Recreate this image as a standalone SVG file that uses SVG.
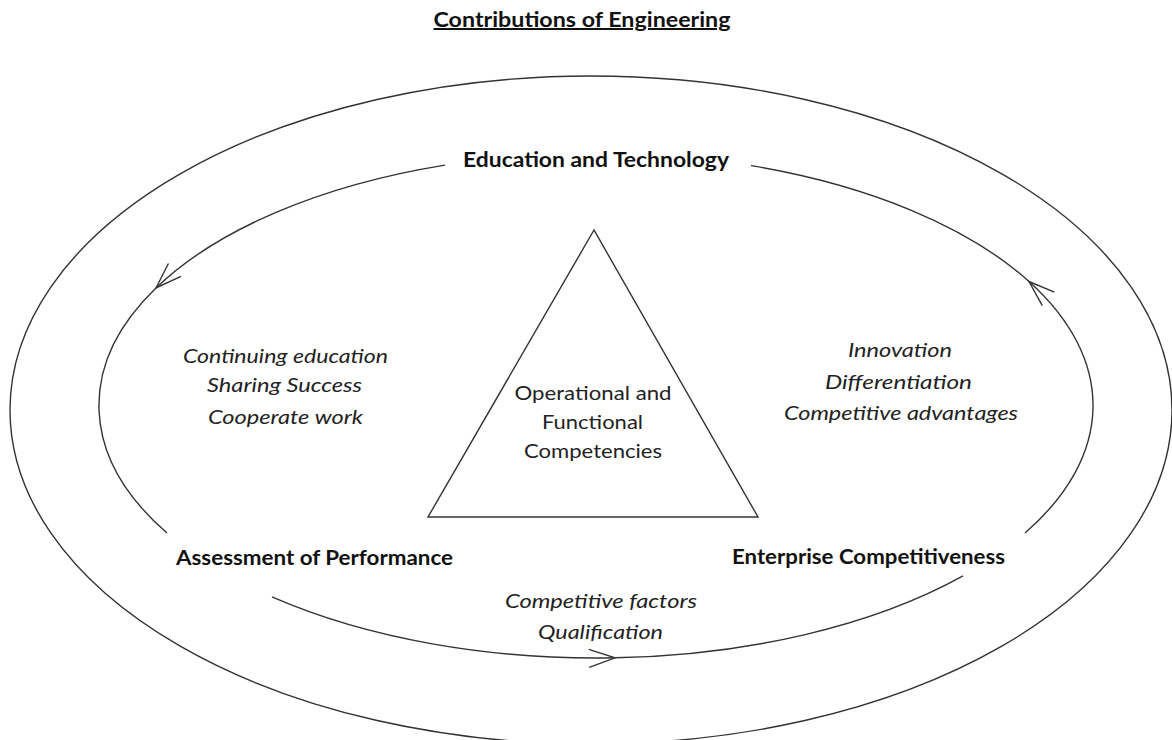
<svg xmlns="http://www.w3.org/2000/svg" width="1172" height="740" viewBox="0 0 1172 740">
  <style>
    .line { fill: none; stroke: #333; stroke-width: 1.4; }
    .bold { font-family: Lato, "Open Sans", "Liberation Sans", sans-serif; font-weight: bold; font-size: 20px; fill: #111; text-anchor: middle; }
    .ital { font-family: Lato, "Open Sans", "Liberation Sans", sans-serif; font-style: italic; font-size: 20px; fill: #222; text-anchor: middle; }
    .reg { font-family: Lato, "Open Sans", "Liberation Sans", sans-serif; font-size: 20px; fill: #222; text-anchor: middle; }
  </style>
  <defs>
    <marker id="arrow" markerUnits="userSpaceOnUse" markerWidth="40" markerHeight="30" viewBox="-30 -15 40 30" refX="0" refY="0" orient="auto">
      <path d="M-26,-9 L0,0 L-26,9" fill="none" stroke="#333" stroke-width="1.4"/>
    </marker>
  </defs>
  <rect width="1172" height="740" fill="#fff"/>

  <g id="title">
    <text class="bold" x="582" y="27" textLength="297" lengthAdjust="spacingAndGlyphs" text-decoration="underline">Contributions of Engineering</text>
  </g>

  <g id="outer-ellipse">
    <ellipse class="line" cx="591" cy="410" rx="581" ry="334"/>
  </g>

  <g id="connectors">
    <path class="line" marker-mid="url(#arrow)" d="M445,165.1 A497,252.5 0 0 0 156,288 A497,252.5 0 0 0 167,533"/>
    <path class="line" marker-mid="url(#arrow)" d="M272,596.9 A497,252.5 0 0 0 615,657.8 A497,252.5 0 0 0 963,575.9"/>
    <path class="line" marker-mid="url(#arrow)" d="M1025,533 A497,252.5 0 0 0 1029,281.5 A497,252.5 0 0 0 751,165.6"/>
  </g>

  <g id="education-technology">
    <text class="bold" x="596" y="167" textLength="266" lengthAdjust="spacingAndGlyphs">Education and Technology</text>
  </g>

  <g id="assessment-performance">
    <text class="bold" x="314.5" y="565" textLength="277" lengthAdjust="spacingAndGlyphs">Assessment of Performance</text>
  </g>

  <g id="enterprise-competitiveness">
    <text class="bold" x="868.5" y="564" textLength="273" lengthAdjust="spacingAndGlyphs">Enterprise Competitiveness</text>
  </g>

  <g id="competencies">
    <polygon class="line" points="594,230 428,517 758,517"/>
    <text class="reg" x="593" y="400" textLength="157" lengthAdjust="spacingAndGlyphs">Operational and</text>
    <text class="reg" x="592.5" y="429" textLength="101" lengthAdjust="spacingAndGlyphs">Functional</text>
    <text class="reg" x="593" y="458" textLength="138" lengthAdjust="spacingAndGlyphs">Competencies</text>
  </g>

  <g id="left-label">
    <text class="ital" x="285.5" y="363" textLength="205" lengthAdjust="spacingAndGlyphs">Continuing education</text>
    <text class="ital" x="284.5" y="392" textLength="155" lengthAdjust="spacingAndGlyphs">Sharing Success</text>
    <text class="ital" x="285.5" y="424" textLength="155" lengthAdjust="spacingAndGlyphs">Cooperate work</text>
  </g>

  <g id="right-label">
    <text class="ital" x="900" y="357" textLength="104" lengthAdjust="spacingAndGlyphs">Innovation</text>
    <text class="ital" x="898.5" y="389" textLength="147" lengthAdjust="spacingAndGlyphs">Differentiation</text>
    <text class="ital" x="901" y="420" textLength="234" lengthAdjust="spacingAndGlyphs">Competitive advantages</text>
  </g>

  <g id="bottom-label">
    <text class="ital" x="601" y="608" textLength="192" lengthAdjust="spacingAndGlyphs">Competitive factors</text>
    <text class="ital" x="600.5" y="639" textLength="125" lengthAdjust="spacingAndGlyphs">Qualification</text>
  </g>
</svg>
